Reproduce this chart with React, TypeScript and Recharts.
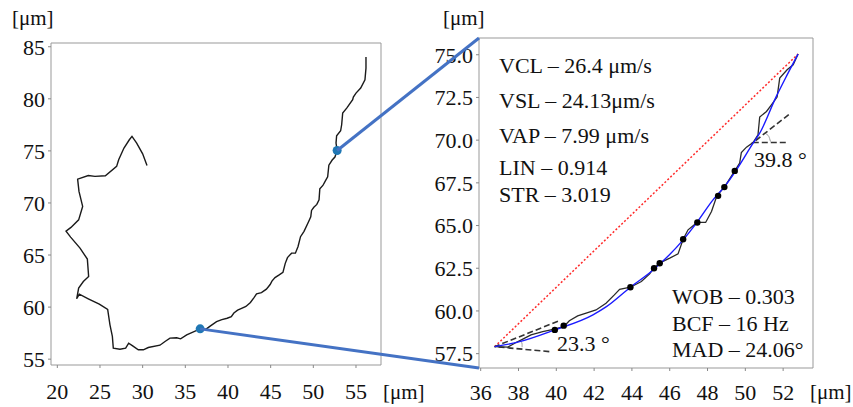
import React from 'react';
import { ComposedChart, Line, Scatter, XAxis, YAxis, ReferenceArea } from 'recharts';

const W = 853;
const H = 407;
const FONT = '"Liberation Serif", "Times New Roman", serif';

// whole track, part before the zoomed window
const trackHead = [
  { x: 30.51, y: 73.6 }, { x: 30.0, y: 74.72 }, { x: 29.3, y: 75.75 }, { x: 28.75, y: 76.39 },
  { x: 28.44, y: 76.07 }, { x: 27.81, y: 75.27 }, { x: 27.19, y: 74.15 }, { x: 26.95, y: 73.51 },
  { x: 25.63, y: 72.61 }, { x: 24.41, y: 72.55 }, { x: 23.63, y: 72.64 }, { x: 22.38, y: 72.29 },
  { x: 22.54, y: 71.11 }, { x: 22.97, y: 69.67 }, { x: 22.5, y: 68.38 }, { x: 21.6, y: 67.65 },
  { x: 21.02, y: 67.3 }, { x: 21.56, y: 66.72 }, { x: 22.66, y: 65.66 }, { x: 23.52, y: 64.61 },
  { x: 23.67, y: 62.94 }, { x: 23.05, y: 62.46 }, { x: 22.5, y: 61.82 }, { x: 22.27, y: 60.8 },
  { x: 22.58, y: 61.24 }, { x: 23.63, y: 60.8 }, { x: 24.92, y: 60.28 }, { x: 25.9, y: 59.77 },
  { x: 26.17, y: 58.3 }, { x: 26.45, y: 57.18 }, { x: 26.56, y: 56.06 }, { x: 27.34, y: 55.96 },
  { x: 28.01, y: 56.06 }, { x: 28.36, y: 56.54 }, { x: 28.83, y: 56.28 }, { x: 29.49, y: 55.9 },
  { x: 30.08, y: 55.9 }, { x: 30.66, y: 56.12 }, { x: 32.03, y: 56.34 }, { x: 32.62, y: 56.7 },
  { x: 33.2, y: 57.02 }, { x: 33.98, y: 57.05 }, { x: 34.45, y: 56.95 }, { x: 35.16, y: 57.34 },
];

// zoomed part of the track (raw path)
const zoomTrack = [
  { x: 36.74, y: 57.91 }, { x: 37.43, y: 57.88 }, { x: 37.87, y: 58.15 }, { x: 38.66, y: 58.6 },
  { x: 39.28, y: 58.79 }, { x: 39.9, y: 58.93 }, { x: 40.39, y: 59.08 }, { x: 40.69, y: 59.43 },
  { x: 41.13, y: 59.71 }, { x: 41.66, y: 59.9 }, { x: 42.1, y: 60.06 }, { x: 42.63, y: 60.45 },
  { x: 43.07, y: 60.94 }, { x: 43.35, y: 61.27 }, { x: 43.92, y: 61.39 }, { x: 44.5, y: 61.72 },
  { x: 44.94, y: 62.17 }, { x: 45.15, y: 62.5 }, { x: 45.51, y: 62.83 }, { x: 46.0, y: 63.09 },
  { x: 46.44, y: 63.34 }, { x: 46.71, y: 64.2 }, { x: 46.97, y: 64.75 }, { x: 47.45, y: 65.18 },
  { x: 47.9, y: 65.18 }, { x: 48.21, y: 65.82 }, { x: 48.5, y: 66.76 }, { x: 48.91, y: 67.28 },
  { x: 49.44, y: 68.2 }, { x: 49.7, y: 68.66 }, { x: 49.79, y: 69.28 }, { x: 50.06, y: 69.59 },
  { x: 50.41, y: 69.86 }, { x: 50.67, y: 70.31 }, { x: 50.76, y: 71.35 }, { x: 51.12, y: 71.68 },
  { x: 51.38, y: 72.07 }, { x: 51.68, y: 72.52 }, { x: 51.82, y: 73.63 }, { x: 52.21, y: 74.12 },
  { x: 52.53, y: 74.41 }, { x: 52.79, y: 75.04 },
];

const trackTail = [
  { x: 52.66, y: 75.75 }, { x: 52.73, y: 76.45 }, { x: 53.2, y: 76.93 }, { x: 53.32, y: 77.51 },
  { x: 53.44, y: 78.63 }, { x: 53.91, y: 79.11 }, { x: 54.61, y: 79.91 }, { x: 54.69, y: 80.17 },
  { x: 55.0, y: 80.55 }, { x: 55.55, y: 81.03 }, { x: 56.05, y: 81.83 }, { x: 56.17, y: 82.95 },
  { x: 56.17, y: 84.01 },
];

const fullTrack = [...trackHead, ...zoomTrack, ...trackTail];
const zoomStart = zoomTrack[0];
const zoomEnd = zoomTrack[zoomTrack.length - 1];
const markers = [zoomStart, zoomEnd];

// average path (smooth) and straight line
const avgPath = [
  { x: 36.74, y: 57.91 }, { x: 38.06, y: 58.2 }, { x: 39.92, y: 58.89 }, { x: 41.94, y: 59.77 },
  { x: 42.65, y: 60.25 }, { x: 43.92, y: 61.39 }, { x: 45.12, y: 62.4 }, { x: 46.71, y: 64.16 },
  { x: 47.41, y: 65.14 }, { x: 48.29, y: 66.5 }, { x: 48.91, y: 67.29 }, { x: 49.53, y: 68.26 },
  { x: 50.41, y: 69.82 }, { x: 50.76, y: 70.41 }, { x: 51.64, y: 72.56 }, { x: 52.17, y: 73.73 },
  { x: 52.79, y: 75.04 },
];
const straightPath = [zoomStart, zoomEnd];

const pathDots = [
  { x: 39.92, y: 58.89 }, { x: 40.39, y: 59.14 }, { x: 43.92, y: 61.39 }, { x: 45.17, y: 62.5 },
  { x: 45.47, y: 62.79 }, { x: 46.71, y: 64.2 }, { x: 47.46, y: 65.18 }, { x: 48.56, y: 66.74 },
  { x: 48.89, y: 67.25 }, { x: 49.44, y: 68.2 },
];

// angle construction lines
const angleStart = [{ x: 39.63, y: 57.62 }, { x: 36.74, y: 57.91 }, { x: 40.16, y: 59.43 }];
const arcStart = [{ x: 38.1, y: 58.26 }, { x: 38.19, y: 58.07 }, { x: 38.19, y: 57.88 }];
const angleEnd = [{ x: 52.14, y: 69.86 }, { x: 50.41, y: 69.86 }, { x: 52.35, y: 71.54 }];
const arcEnd = [{ x: 51.08, y: 70.37 }, { x: 51.24, y: 70.22 }, { x: 51.33, y: 69.92 }];

const leftXTicks = [20, 25, 30, 35, 40, 45, 50, 55];
const leftYTicks = [55, 60, 65, 70, 75, 80, 85];
const rightXTicks = [36, 38, 40, 42, 44, 46, 48, 50, 52];
const rightYTicks = [57.5, 60, 62.5, 65, 67.5, 70, 72.5, 75];
const leftXDomain = [19.26, 57.93];
const leftYDomain = [54.44, 85.36];
const rightXDomain = [35.91, 53.58];
const rightYDomain = [56.66, 75.98];

const statsTop = ['VCL – 26.4 μm/s', 'VSL – 24.13μm/s', 'VAP – 7.99 μm/s', 'LIN – 0.914', 'STR – 3.019'];
const statsBottom = ['WOB – 0.303', 'BCF – 16 Hz', 'MAD – 24.06°'];
const angleLabels = ['23.3 °', '39.8 °'];
const unit = '[μm]';

// plot rectangles (pixels)
const LBOX = { left: 51, top: 43, right: 381, bottom: 365 };
const RBOX = { left: 479, top: 38, right: 813, bottom: 368 };

const toPx = (box: any, xd: number[], yd: number[], p: { x: number; y: number }) => ({
  x: box.left + ((p.x - xd[0]) / (xd[1] - xd[0])) * (box.right - box.left),
  y: box.bottom - ((p.y - yd[0]) / (yd[1] - yd[0])) * (box.bottom - box.top),
});

const tickStyle = { fontSize: 22, fill: '#111', fontFamily: FONT };

const Dot = (color: string, r: number) => (p: any) => <circle cx={p.cx} cy={p.cy} r={r} fill={color} />;

export default function App() {
  const a = toPx(LBOX, leftXDomain, leftYDomain, zoomEnd);
  const b = toPx(LBOX, leftXDomain, leftYDomain, zoomStart);
  const topY = [73.3, 108.3, 142.7, 175, 201.7];
  const botY = [304, 330.7, 357.3];

  return (
    <div style={{ position: 'absolute', left: 0, top: 0, width: W, height: H, background: '#fff' }}>
      <div style={{ position: 'absolute', left: 0, top: 0 }}>
        <ComposedChart
          width={W}
          height={H}
          margin={{ top: LBOX.top, left: LBOX.left - 40, right: W - LBOX.right, bottom: H - LBOX.bottom - 30 }}
        >
          <XAxis
            dataKey="x"
            type="number"
            domain={leftXDomain}
            ticks={leftXTicks}
            allowDataOverflow
            height={30}
            axisLine={false}
            tickLine={{ stroke: '#888' }}
            tickSize={3}
            tickMargin={15}
            tick={tickStyle}
          />
          <YAxis
            dataKey="y"
            type="number"
            domain={leftYDomain}
            ticks={leftYTicks}
            allowDataOverflow
            width={40}
            axisLine={false}
            tickLine={{ stroke: '#888' }}
            tickSize={3}
            tickMargin={3}
            tick={tickStyle}
          />
          <ReferenceArea x1={leftXDomain[0]} x2={leftXDomain[1]} y1={leftYDomain[0]} y2={leftYDomain[1]} fill="none" stroke="#999" strokeWidth={1} ifOverflow="visible" />
          <Line data={fullTrack} dataKey="y" type="linear" stroke="#1a1a1a" strokeWidth={1.4} dot={false} isAnimationActive={false} />
          <Scatter data={markers} dataKey="y" shape={Dot('#1f77b4', 4.5)} isAnimationActive={false} />
        </ComposedChart>
      </div>

      <div style={{ position: 'absolute', left: 0, top: 0 }}>
        <ComposedChart
          width={W}
          height={H}
          margin={{ top: RBOX.top, left: RBOX.left - 50, right: W - RBOX.right, bottom: H - RBOX.bottom - 30 }}
        >
          <XAxis
            dataKey="x"
            type="number"
            domain={rightXDomain}
            ticks={rightXTicks}
            allowDataOverflow
            height={30}
            axisLine={false}
            tickLine={{ stroke: '#888' }}
            tickSize={3}
            tickMargin={13}
            tick={tickStyle}
          />
          <YAxis
            dataKey="y"
            type="number"
            domain={rightYDomain}
            ticks={rightYTicks}
            tickFormatter={(v: number) => v.toFixed(1)}
            allowDataOverflow
            width={50}
            axisLine={false}
            tickLine={{ stroke: '#888' }}
            tickSize={3}
            tickMargin={3}
            tick={tickStyle}
          />
          <ReferenceArea x1={rightXDomain[0]} x2={rightXDomain[1]} y1={rightYDomain[0]} y2={rightYDomain[1]} fill="none" stroke="#999" strokeWidth={1} ifOverflow="visible" />
          <Line data={straightPath} dataKey="y" type="linear" stroke="#ff2a2a" strokeWidth={1.5} strokeDasharray="2 2" dot={false} isAnimationActive={false} />
          <Line data={arcStart} dataKey="y" type="monotone" stroke="#999" strokeWidth={1} dot={false} isAnimationActive={false} />
          <Line data={arcEnd} dataKey="y" type="monotone" stroke="#999" strokeWidth={1} dot={false} isAnimationActive={false} />
          <Line data={angleStart} dataKey="y" type="linear" stroke="#333" strokeWidth={1.6} strokeDasharray="6 3" dot={false} isAnimationActive={false} />
          <Line data={angleEnd} dataKey="y" type="linear" stroke="#333" strokeWidth={1.6} strokeDasharray="6 3" dot={false} isAnimationActive={false} />
          <Line data={zoomTrack} dataKey="y" type="linear" stroke="#2a2a2a" strokeWidth={1.3} dot={false} isAnimationActive={false} />
          <Line data={avgPath} dataKey="y" type="monotone" stroke="#1a1aff" strokeWidth={1.4} dot={false} isAnimationActive={false} />
          <Scatter data={pathDots} dataKey="y" shape={Dot('#000', 3.2)} isAnimationActive={false} />
        </ComposedChart>
      </div>

      <svg width={W} height={H} style={{ position: 'absolute', left: 0, top: 0, pointerEvents: 'none' }}>
        <line x1={a.x} y1={a.y} x2={RBOX.left} y2={RBOX.top} stroke="#4472c4" strokeWidth={3} />
        <line x1={b.x} y1={b.y} x2={RBOX.left} y2={RBOX.bottom} stroke="#4472c4" strokeWidth={3} />
        <g fontFamily={FONT} fill="#111">
          <text x={12} y={24.5} fontSize={21}>{unit}</text>
          <text x={443} y={24.5} fontSize={21}>{unit}</text>
          <text x={383} y={399} fontSize={21}>{unit}</text>
          <text x={810} y={399} fontSize={21}>{unit}</text>
          {statsTop.map((s, i) => (
            <text key={s} x={499} y={topY[i]} fontSize={22}>{s}</text>
          ))}
          {statsBottom.map((s, i) => (
            <text key={s} x={672} y={botY[i]} fontSize={22}>{s}</text>
          ))}
          <text x={557} y={350.7} fontSize={22}>{angleLabels[0]}</text>
          <text x={754} y={166.7} fontSize={22}>{angleLabels[1]}</text>
        </g>
      </svg>
    </div>
  );
}
